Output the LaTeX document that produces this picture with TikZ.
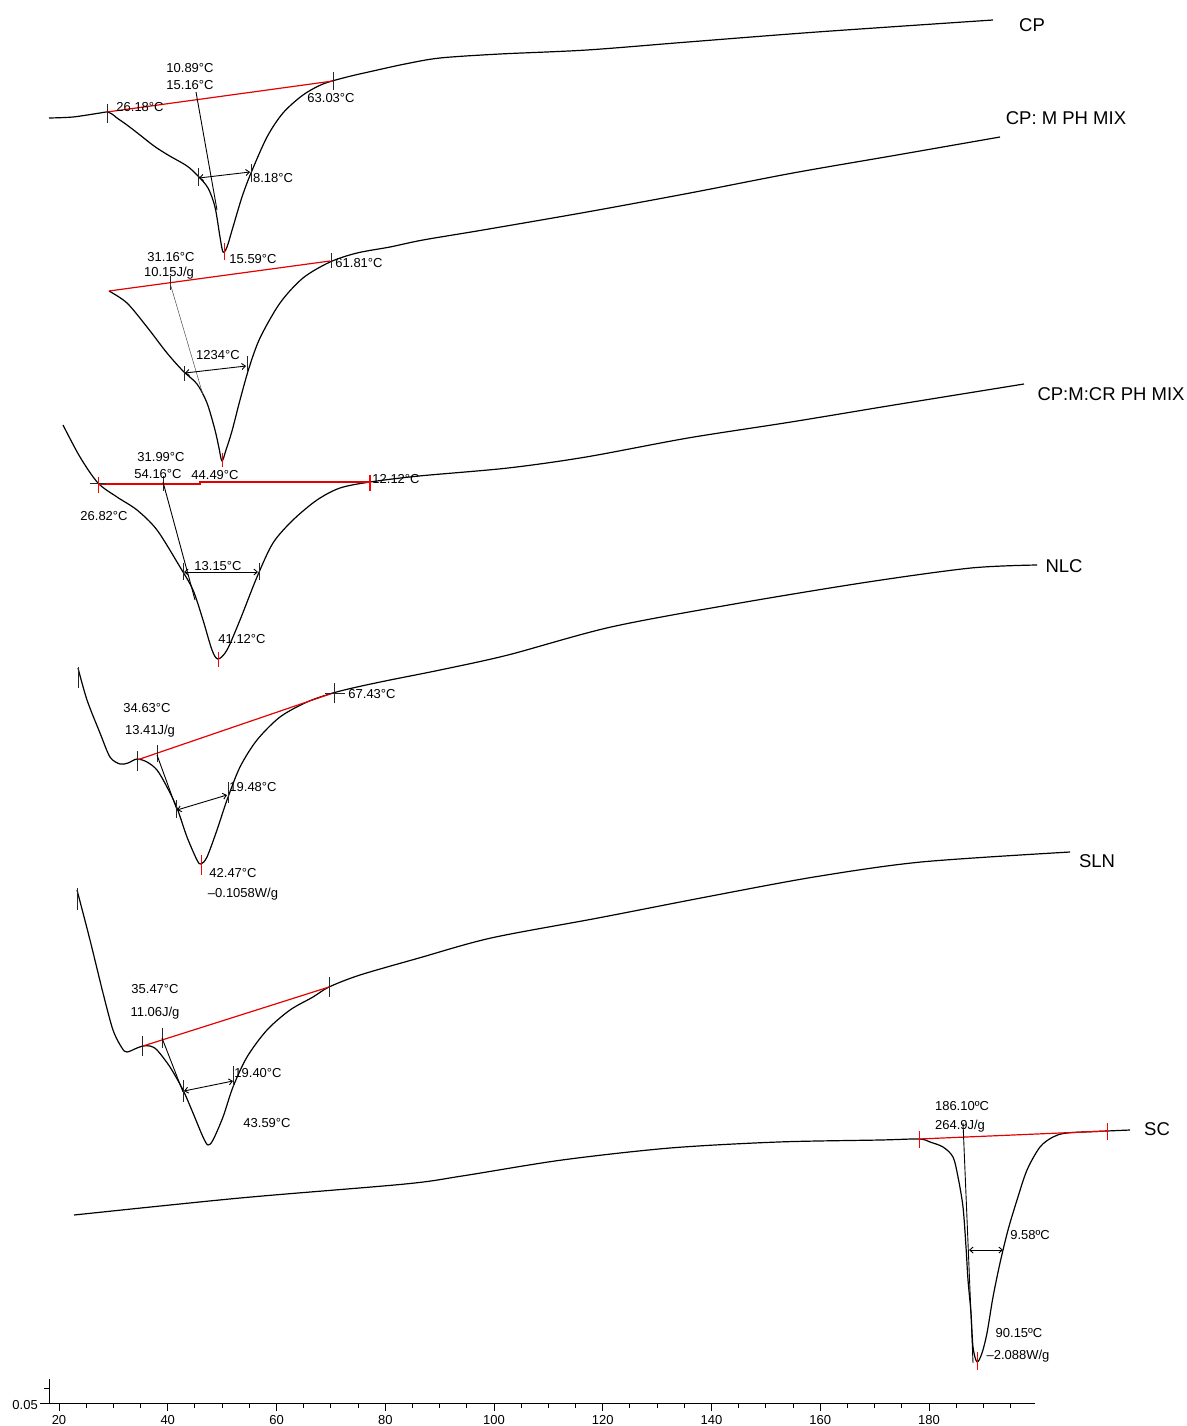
\documentclass[tikz,border=0pt]{standalone}
\usepackage{fontspec}
\setmainfont{Liberation Sans}
\usetikzlibrary{arrows.meta}
\begin{document}
\begin{tikzpicture}[x=1pt,y=-1pt,
  curve/.style={line width=1.2pt, black, line join=round},
  basel/.style={line width=1.2pt, red!90!black},
  tk/.style={line width=0.9pt, black!85},
  rtk/.style={line width=1pt, red},
  onset/.style={line width=0.9pt, black},
  thinonset/.style={line width=0.5pt, black!70},
  dimarr/.style={line width=0.9pt, {Straight Barb[length=3.5pt,width=6pt]}-{Straight Barb[length=3.5pt,width=6pt]}},
  lbl/.style={font=\fontsize{13}{15}\selectfont, inner sep=0pt, anchor=mid, yshift=-2.8pt},
  cname/.style={font=\fontsize{18.5}{22}\selectfont, inner sep=0pt, anchor=mid, yshift=-5.2pt},
]
\useasboundingbox (0,0) rectangle (1186,1426);

% ---------------- CP ----------------
\draw[curve] plot[smooth, tension=0.5] coordinates {(49,118) (73,117) (100,113) (107,112) (112,114) (117,118) (127,125) (140,135) (154,146) (168,155) (187,166) (198,176) (208,188) (215,207) (220,237) (223,252) (227,247) (233,227) (242,197) (251,173) (267,137) (283,113) (303,95) (323,84) (347,77) (373,71) (405,64) (440,58) (500,54) (587,50) (688,42) (817,32) (993,20)};
\draw[basel] (107,112) -- (333,81);
\draw[tk] (107,104) -- (107,123);
\draw[tk] (333,72) -- (333,90);
\draw[onset] (196,92) -- (217,210);
\draw[tk] (198,168) -- (198,186);
\draw[tk] (251,164) -- (251,182);
\draw[dimarr] (199,178) -- (250,172);
\draw[rtk] (224,243) -- (224,260);
\node[lbl] (cp1) at (190,67) {10.89°C};
\node[lbl] (cp2) at (190,84) {15.16°C};
\node[lbl] (cp3) at (140,106) {26.18°C};
\node[lbl] (cp4) at (331,97) {63.03°C};
\node[lbl] (cp5) at (273,177) {8.18°C};
\node[lbl] (cp6) at (253,258) {15.59°C};
\node[cname] (ncp) at (1032,24) {CP};

% ---------------- CP: M PH MIX ----------------
\draw[curve] plot[smooth, tension=0.5] coordinates {(109,291) (127,303) (147,327) (167,353) (183,371) (197,384) (207,403) (215,430) (219,448) (222,461) (226,450) (232,431) (240,400) (249,368) (260,338) (280,303) (303,278) (330,262) (357,253) (390,247) (423,240) (483,230) (587,212) (690,193) (793,173) (897,155) (1000,137)};
\draw[basel] (109,291) -- (330,261);
\draw[tk] (170,276) -- (170,290);
\draw[tk] (331,253) -- (331,268);
\draw[thinonset] (170,283) -- (203,395);
\draw[tk] (184,366) -- (184,381);
\draw[tk] (247,356) -- (247,372);
\draw[dimarr] (185,373) -- (246,366);
\draw[rtk] (222,453) -- (222,467);
\node[lbl] (m1) at (171,256) {31.16°C};
\node[lbl] (m2) at (169,271) {10.15J/g};
\node[lbl] (m3) at (359,262) {61.81°C};
\node[lbl] (m4) at (218,354) {1234°C};
\node[lbl] (m5) at (215,474) {44.49°C};
\node[cname] (nm) at (1066,117) {CP: M PH MIX};

% ---------------- CP:M:CR PH MIX ----------------
\draw[curve] plot[smooth, tension=0.5] coordinates {(63,425) (80,457) (98,483) (117,497) (137,510) (157,530) (180,567) (193,590) (203,620) (212,650) (218,659) (227,650) (240,620) (257,577) (273,543) (293,520) (317,500) (340,488) (370,482) (419,476) (508,468) (586,457) (688,438) (791,422) (894,405) (1024,384)};
\draw[basel] (98,484) -- (200,484) -- (200,482) -- (370,482);
\draw[tk] (90,483) -- (106,483);
\draw[rtk] (98,477) -- (98,493);
\draw[tk] (163,476) -- (163,491);
\draw[line width=2pt, red] (370,475) -- (370,491);
\draw[onset] (163,482) -- (195,600);
\draw[tk] (183,563) -- (183,580);
\draw[tk] (259,563) -- (259,580);
\draw[dimarr] (184,572) -- (258,572);
\draw[rtk] (218,652) -- (218,667);
\node[lbl] (r1) at (161,456) {31.99°C};
\node[lbl] (r2) at (158,473) {54.16°C};
\node[lbl] (r3) at (104,515) {26.82°C};
\node[lbl] (r4) at (396,478) {12.12°C};
\node[lbl] (r5) at (218,565) {13.15°C};
\node[lbl] (r6) at (242,638) {41.12°C};
\node[cname] (nr) at (1111,393) {CP:M:CR PH MIX};

% ---------------- NLC ----------------
\draw[curve] plot[smooth, tension=0.5] coordinates {(78,668) (87,700) (100,733) (110,757) (120,764) (128,763) (137,759) (147,762) (157,770) (167,787) (177,808) (187,837) (197,860) (201,864) (207,857) (217,830) (227,800) (240,767) (257,740) (280,717) (307,702) (333,693) (357,687) (390,680) (440,670) (508,655) (611,627) (740,603) (868,582) (971,568) (1037,565)};
\draw[basel] (137,760) -- (333,693);
\draw[tk] (78,667) -- (78,688);
\draw[tk] (137,751) -- (137,771);
\draw[tk] (157,745) -- (157,762);
\draw[tk] (334,683) -- (334,703);
\draw[tk] (325,693) -- (345,693);
\draw[onset] (157,755) -- (177,810);
\draw[tk] (176,800) -- (176,818);
\draw[tk] (228,782) -- (228,803);
\draw[dimarr] (177,810) -- (227,795);
\draw[rtk] (201,855) -- (201,875);
\node[lbl] (n1) at (147,707) {34.63°C};
\node[lbl] (n2) at (150,729) {13.41J/g};
\node[lbl] (n3) at (372,693) {67.43°C};
\node[lbl] (n4) at (253,786) {19.48°C};
\node[lbl] (n5) at (233,872) {42.47°C};
\node[lbl] (n6) at (243,892) {–0.1058W/g};
\node[cname] (nn) at (1064,565) {NLC};

% ---------------- SLN ----------------
\draw[curve] plot[smooth, tension=0.5] coordinates {(77,890) (90,940) (103,993) (113,1030) (122,1048) (127,1052) (137,1048) (143,1046) (150,1046) (157,1050) (170,1067) (183,1090) (193,1113) (203,1137) (208,1145) (213,1140) (223,1117) (233,1087) (247,1057) (267,1030) (290,1010) (313,997) (329,987) (360,975) (419,958) (491,938) (598,918) (706,897) (814,877) (921,862) (1070,852)};
\draw[basel] (143,1046) -- (329,987);
\draw[tk] (77,888) -- (77,910);
\draw[tk] (142,1036) -- (142,1056);
\draw[tk] (162,1028) -- (162,1048);
\draw[tk] (329,977) -- (329,997);
\draw[onset] (162,1038) -- (183,1092);
\draw[tk] (183,1080) -- (183,1102);
\draw[tk] (233,1066) -- (233,1087);
\draw[dimarr] (184,1091) -- (233,1081);
\node[lbl] (s1) at (155,988) {35.47°C};
\node[lbl] (s2) at (155,1011) {11.06J/g};
\node[lbl] (s3) at (258,1072) {19.40°C};
\node[lbl] (s4) at (267,1122) {43.59°C};
\node[cname] (ns) at (1097,860) {SLN};

% ---------------- SC ----------------
\draw[curve] plot[smooth, tension=0.5] coordinates {(74,1215) (240,1198) (405,1184) (462,1176) (562,1160) (670,1148) (778,1142) (880,1140) (919,1139) (930,1142) (943,1147) (953,1157) (958,1177) (963,1207) (966,1247) (968,1280) (971,1313) (973,1347) (977,1362) (982,1353) (987,1333) (993,1297) (1000,1263) (1008,1230) (1017,1200) (1027,1170) (1040,1147) (1053,1137) (1067,1133) (1107,1131) (1130,1130)};
\draw[basel] (919,1139) -- (1107,1131);
\draw[rtk] (919,1131) -- (919,1148);
\draw[rtk] (1107,1123) -- (1107,1140);
\draw[onset] (963,1123) -- (973,1363);
\draw[dimarr] (969,1250) -- (1003,1250);
\draw[rtk] (977,1352) -- (977,1370);
\node[lbl] (c1) at (962,1105) {186.10ºC};
\node[lbl] (c2) at (960,1124) {264.9J/g};
\node[lbl] (c3) at (1030,1234) {9.58ºC};
\node[lbl] (c4) at (1019,1332) {90.15ºC};
\node[lbl] (c5) at (1018,1354) {–2.088W/g};
\node[cname] (nc) at (1157,1128) {SC};

% ---------------- axes ----------------
\draw[line width=1pt] (49,1403) -- (1035,1403);
\draw[line width=1pt] (49,1379) -- (49,1403);
\draw[line width=0.9pt] (44,1388) -- (49,1388);
\draw[line width=0.9pt] (40,1403) -- (49,1403);
\node[lbl, anchor=east, yshift=3pt] (yl) at (38,1405) {0.05};
\foreach \t in {20,25,...,195} {
  \pgfmathsetmacro\xx{59+5.4375*(\t-20)}
  \draw[line width=0.9pt] (\xx,1403) -- (\xx,1408);
}
\foreach \t in {20,40,...,180} {
  \pgfmathsetmacro\xx{59+5.4375*(\t-20)}
  \draw[line width=0.9pt] (\xx,1403) -- (\xx,1411);
  \node[lbl] (ax\t) at (\xx,1419) {\t};
}
\end{tikzpicture}
\end{document}
